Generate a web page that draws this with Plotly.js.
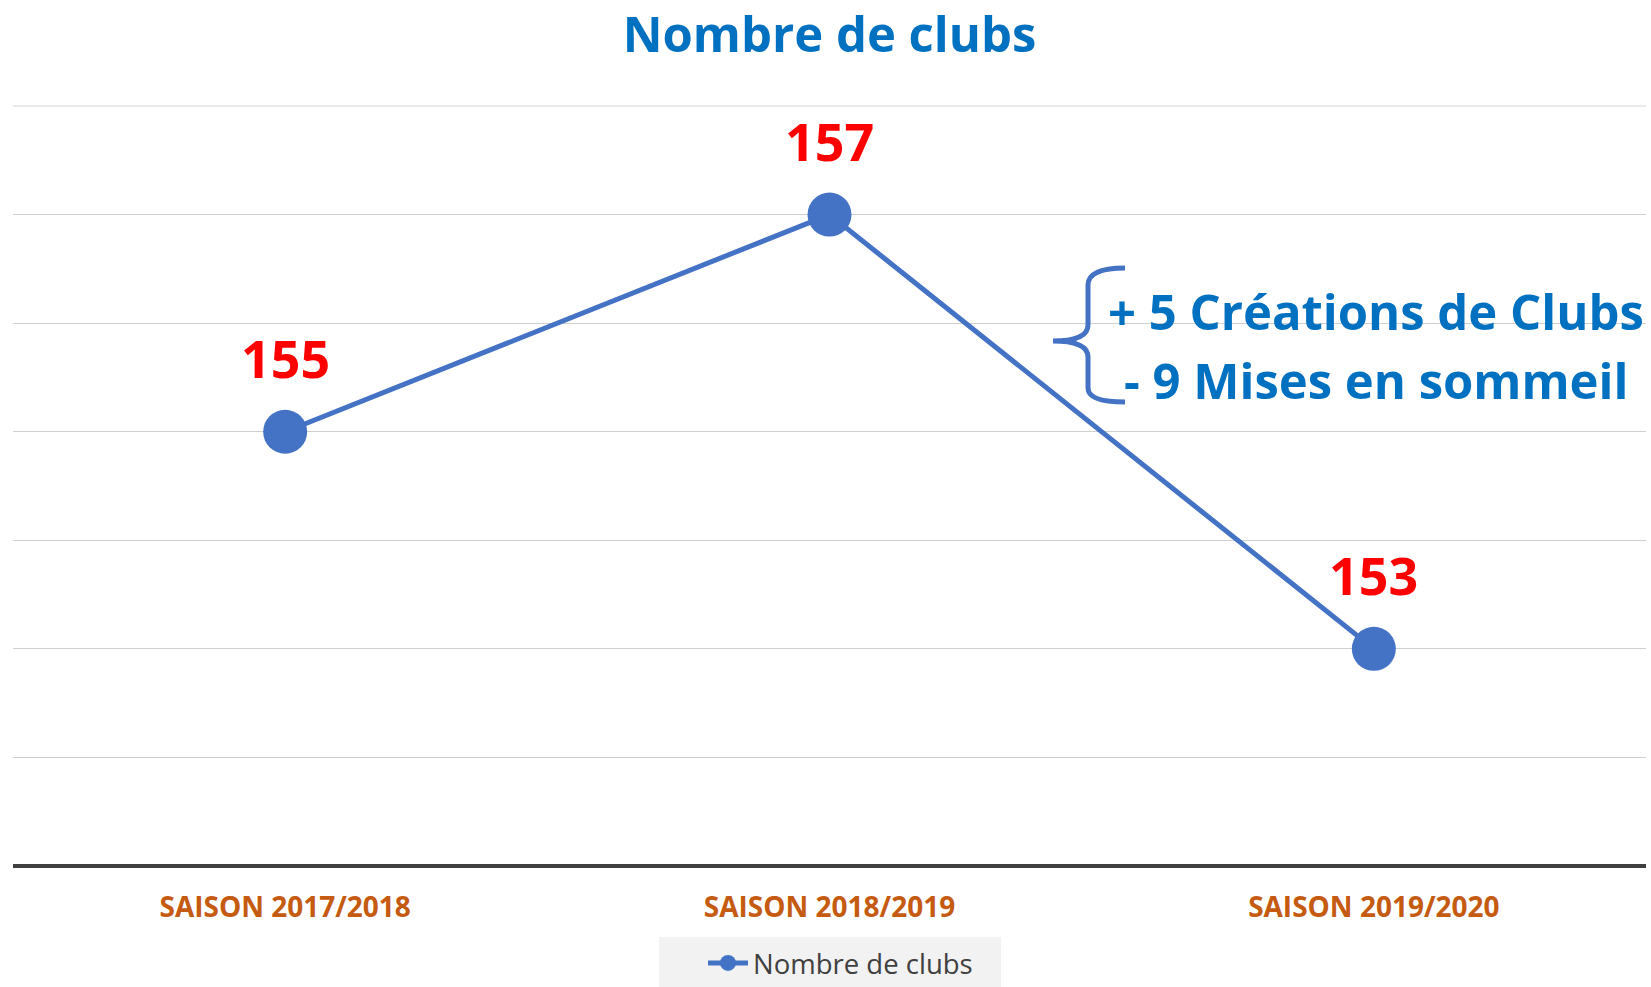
<!DOCTYPE html>
<html>
<head>
<meta charset="utf-8">
<script src="https://cdn.plot.ly/plotly-3.0.1.min.js"></script>
<style>html,body{margin:0;padding:0;background:#fff;}#chart{width:1651px;height:987px;}</style>
</head>
<body>
<div id="chart"></div>
<script>
const categories = ["SAISON 2017/2018", "SAISON 2018/2019", "SAISON 2019/2020"];
const clubs = [155, 157, 153];
const seriesName = "Nombre de clubs";
const noteLines = ["+ 5 Créations de Clubs", "- 9 Mises en sommeil"];

const W = 1651, H = 987;
const M = {l: 13, r: 5, t: 106, b: 121, autoexpand: false};
const PW = W - M.l - M.r, PH = H - M.t - M.b;
const px = X => (X - M.l) / PW;
const py = Y => (H - M.b - Y) / PH;

const FONT = "Open Sans, Noto Sans, sans-serif";
const GRID = "#cfcfcf";

const trace = {
  x: categories, y: clubs, name: seriesName,
  type: "scatter", mode: "lines+markers",
  line: {color: "#4472C4", width: 5},
  marker: {color: "#4472C4", size: 44},
  hoverinfo: "x+y"
};

const annotations = categories.map((c, i) => ({
  x: c, y: clubs[i], xref: "x", yref: "y",
  text: String(clubs[i]), showarrow: false, yshift: 74,
  font: {family: FONT, size: 52, color: "#FF0000", weight: 700}
}));
const noteY = [311, 380];
noteLines.forEach((t, i) => annotations.push({
  xref: "paper", yref: "paper", x: px(1376), y: py(noteY[i]),
  xanchor: "center", yanchor: "middle", text: "<b>" + t + "</b>", showarrow: false,
  font: {family: FONT, size: 49, color: "#0070C0"}
}));

function P(X, Y) { return px(X).toFixed(5) + "," + py(Y).toFixed(5); }
const brace = "M" + P(1125, 268) + " Q" + P(1088, 268) + " " + P(1088, 285) +
  " L" + P(1088, 325) + " Q" + P(1088, 341) + " " + P(1053, 341) +
  " Q" + P(1088, 341) + " " + P(1088, 357) +
  " L" + P(1088, 388) + " Q" + P(1088, 402) + " " + P(1125, 402);

const layout = {
  width: W, height: H,
  margin: M,
  paper_bgcolor: "#ffffff", plot_bgcolor: "#ffffff",
  title: {text: "<b>Nombre de clubs</b>", x: 0.5, xref: "paper", xanchor: "center",
    y: 1 - 35 / H, yanchor: "middle", yref: "container",
    font: {family: FONT, size: 49, color: "#0070C0"}},
  xaxis: {type: "category", range: [-0.5, 2.5], showgrid: false, zeroline: false,
    showline: false, ticks: "", ticklabelstandoff: 22,
    tickfont: {family: FONT, size: 28, color: "#C55A11", weight: 700}},
  yaxis: {range: [151, 158], dtick: 1, tick0: 151, showticklabels: false,
    showgrid: true, gridcolor: GRID, gridwidth: 1, zeroline: false,
    showline: false, ticks: "", fixedrange: true},
  showlegend: true,
  legend: {orientation: "h", x: px(703), xanchor: "left", y: py(963), yanchor: "middle",
    bgcolor: "rgba(0,0,0,0)", font: {family: FONT, size: 27.5, color: "#404040"},
    itemwidth: 40},
  annotations: annotations,
  shapes: [
    {type: "rect", xref: "paper", yref: "paper", x0: px(659), x1: px(1001), y0: py(937), y1: py(987),
      fillcolor: "#f2f2f2", line: {width: 0}, layer: "below"},
    {type: "line", xref: "paper", yref: "paper", x0: 0, x1: 1, y0: 1, y1: 1,
      line: {color: "#e3e3e3", width: 1.5}, layer: "below"},
    {type: "line", xref: "paper", yref: "paper", x0: 0, x1: 1, y0: 0, y1: 0,
      line: {color: "#404040", width: 4}},
    {type: "path", xref: "paper", yref: "paper", path: brace,
      line: {color: "#4472C4", width: 5}}
  ]
};

Plotly.newPlot("chart", [trace], layout, {displayModeBar: false, responsive: false});
</script>
</body>
</html>
